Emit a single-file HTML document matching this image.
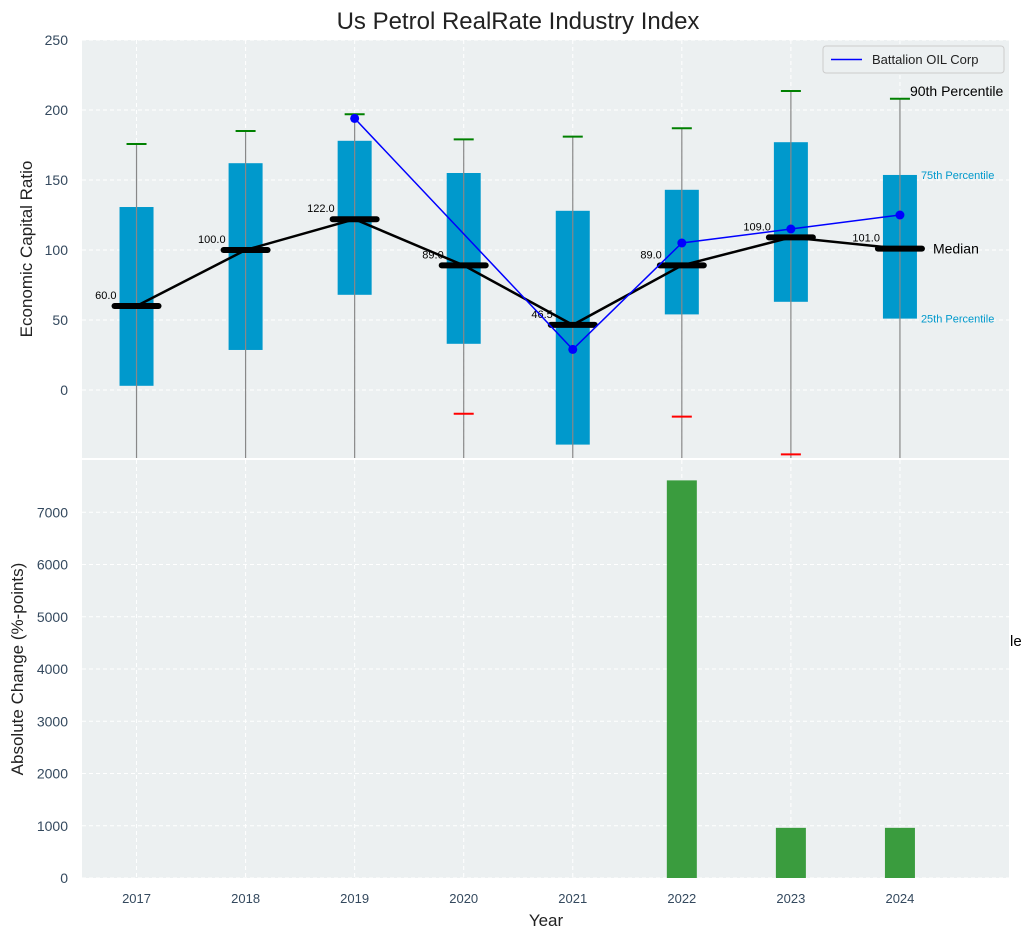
<!DOCTYPE html>
<html><head><meta charset="utf-8"><style>
body{margin:0;background:#fff;font-family:"Liberation Sans",sans-serif}
svg text{font-family:"Liberation Sans",sans-serif}
</style></head><body>
<svg id="c" width="1034" height="940" xmlns="http://www.w3.org/2000/svg">
<text x="518" y="29" font-size="24" text-anchor="middle" fill="#222">Us Petrol RealRate Industry Index</text>
<g id="topPanel"></g>
<g id="botPanel"></g>
</svg>
<script>
const years=[2017,2018,2019,2020,2021,2022,2023,2024];
const q1=[3,28.6,68,33,-39,54,63,51];
const q3=[130.7,162,178,155,128,143,177,153.6];
const med=[60,100,122,89,46.5,89,109,101];
const whiskHi=[175.7,185,197,179,181,187,213.6,208];
const whiskLo=[null,null,null,-17,null,-19,-46,null];
const compYears=[2019,2021,2022,2023,2024];
const compVals=[194,29,105,115,125];
const chgYears=[2022,2023,2024];
const chgVals=[7610,960,960];
const topTicks=[0,50,100,150,200,250];
const botTicks=[0,1000,2000,3000,4000,5000,6000,7000];

const NS="http://www.w3.org/2000/svg";
function el(p,t,a,txt){const e=document.createElementNS(NS,t);for(const k in a)e.setAttribute(k,a[k]);if(txt!==undefined)e.textContent=txt;p.appendChild(e);return e;}
const X0=82,X1=1009;
const x=v=>X0+(v-2016.5)/(2025-2016.5)*(X1-X0);
const yT=v=>390-v*1.4;
const yB=v=>878-v*(418/8000);
const topG=document.getElementById('topPanel'),botG=document.getElementById('botPanel');
const svgEl=document.getElementById('c');
el(svgEl,'defs',{}).innerHTML='<clipPath id="ct"><rect x="82" y="40" width="927" height="418"/></clipPath>';
let r=el(topG,'rect',{x:X0,y:40,width:X1-X0,height:418,fill:'#ecf0f1'});


topTicks.forEach(t=>{let l=el(topG,'line',{x1:X0,x2:X1,y1:yT(t),y2:yT(t),stroke:'#fff','stroke-dasharray':'4,3'});


let tx=el(topG,'text',{x:68,y:yT(t)+5,'font-size':14,fill:'#34495e','text-anchor':'end'},t);

});
years.forEach(yv=>{let l=el(topG,'line',{x1:x(yv),x2:x(yv),y1:40,y2:458,stroke:'#fff','stroke-dasharray':'4,3'});

});
const g=el(topG,'g',{'clip-path':'url(#ct)'});
years.forEach((yv,i)=>{const cx=x(yv);
let b=el(g,'rect',{x:cx-17,y:yT(q3[i]),width:34,height:yT(q1[i])-yT(q3[i]),fill:'#0099cc'});


let w=el(g,'line',{x1:cx,x2:cx,y1:yT(whiskHi[i]),y2:470,stroke:'#888','stroke-width':1.2});


let c=el(g,'line',{x1:cx-10,x2:cx+10,y1:yT(whiskHi[i]),y2:yT(whiskHi[i]),stroke:'green','stroke-width':2});


if(whiskLo[i]!==null){let c2=el(g,'line',{x1:cx-10,x2:cx+10,y1:yT(whiskLo[i]),y2:yT(whiskLo[i]),stroke:'red','stroke-width':2});

}
});
let mp=el(g,'polyline',{points:years.map((yv,i)=>x(yv)+','+yT(med[i])).join(' '),fill:'none',stroke:'#000','stroke-width':2.5});


years.forEach((yv,i)=>{const cx=x(yv);
let m=el(g,'line',{x1:cx-22,x2:cx+22,y1:yT(med[i]),y2:yT(med[i]),stroke:'#000','stroke-width':6,'stroke-linecap':'round'});


let t=el(g,'text',{x:cx-20,y:yT(med[i])-7,'font-size':11,'text-anchor':'end',fill:'#000'},med[i].toFixed(1));

});
let bl=el(g,'polyline',{points:compYears.map((yv,i)=>x(yv)+','+yT(compVals[i])).join(' '),fill:'none',stroke:'blue','stroke-width':1.5});


compYears.forEach((yv,i)=>{let d=el(g,'circle',{cx:x(yv),cy:yT(compVals[i]),r:4.5,fill:'blue'});

});
const lastx=x(2024);
[['90th Percentile',whiskHi[7],14,'#000',10,-3],['75th Percentile',q3[7],11,'#0099cc',21,4],['Median',med[7],14,'#000',33,5],['25th Percentile',q1[7],11,'#0099cc',21,4]].forEach(a=>{
let t=el(topG,'text',{x:lastx+a[4],y:yT(a[1])+a[5],'font-size':a[2],fill:a[3]},a[0]);

});
let lg=el(topG,'g',{});


el(lg,'rect',{x:823,y:46,width:181,height:27,fill:'#ecf0f1',stroke:'#ccc',rx:3});
el(lg,'line',{x1:831,x2:862,y1:59.5,y2:59.5,stroke:'blue','stroke-width':1.5});
el(lg,'text',{x:872,y:64,'font-size':13,fill:'#222'},'Battalion OIL Corp');
let yl=el(topG,'text',{transform:'translate(32,249) rotate(-90)','font-size':17,'text-anchor':'middle',fill:'#222'},'Economic Capital Ratio');


let r2=el(botG,'rect',{x:X0,y:460,width:X1-X0,height:418,fill:'#ecf0f1'});


botTicks.forEach(t=>{let l=el(botG,'line',{x1:X0,x2:X1,y1:yB(t),y2:yB(t),stroke:'#fff','stroke-dasharray':'4,3'});


let tx=el(botG,'text',{x:68,y:yB(t)+5,'font-size':14,fill:'#34495e','text-anchor':'end'},t);

});
years.forEach(yv=>{let l=el(botG,'line',{x1:x(yv),x2:x(yv),y1:460,y2:878,stroke:'#fff','stroke-dasharray':'4,3'});


let tx=el(botG,'text',{x:x(yv),y:903,'font-size':13,fill:'#34495e','text-anchor':'middle'},yv);

});
chgYears.forEach((yv,i)=>{let b=el(botG,'rect',{x:x(yv)-15,y:yB(chgVals[i]),width:30,height:878-yB(chgVals[i]),fill:'#3a9c3e'});

});
let yl2=el(botG,'text',{transform:'translate(23,669) rotate(-90)','font-size':17,'text-anchor':'middle',fill:'#222'},'Absolute Change (%-points)');


let xl=el(botG,'text',{x:546,y:926,'font-size':17,'text-anchor':'middle',fill:'#222'},'Year');


let le=el(botG,'text',{x:1010,y:646,'font-size':15,fill:'#000'},'le');


</script>
</body></html>
